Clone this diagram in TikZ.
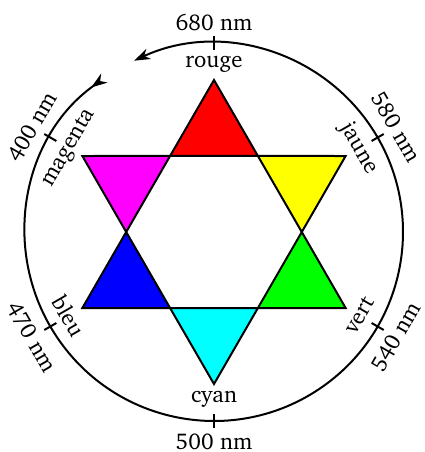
\documentclass[tikz,border=0pt]{standalone}
\usepackage[T1]{fontenc}
\usepackage{charter}
\usetikzlibrary{arrows.meta}

\definecolor{rouge}{rgb}{1,0,0}
\definecolor{jaune}{rgb}{1,1,0}
\definecolor{vert}{rgb}{0,1,0}
\definecolor{cyan}{rgb}{0,1,1}
\definecolor{bleu}{rgb}{0,0,1}
\definecolor{magenta}{rgb}{1,0,1}

\begin{document}
\begin{tikzpicture}[x=0.5pt,y=0.5pt,
  tri/.style={draw=black,line width=1pt,line join=miter},
  marque/.style={line width=1pt},
  font=\fontsize{11.4}{13}\selectfont]
  \useasboundingbox (-214,-220) rectangle (211,232);
  \coordinate (O) at (0,0);
  % --- cercle des longueurs d'onde ---
  \draw[line width=1pt,{Stealth[length=8pt,width=5.5pt,inset=2.5pt,reversed]}-{Stealth[length=8pt,width=5.5pt,inset=2.5pt]}]
    (125.5:189) arc[start angle=125.5,end angle=475,radius=189];
  % --- graduations ---
  \coordinate (t90a) at (90:182);   \coordinate (t90b) at (90:196);
  \coordinate (t30a) at (30:182);   \coordinate (t30b) at (30:196);
  \coordinate (t-30a) at (-30:182); \coordinate (t-30b) at (-30:196);
  \coordinate (t-90a) at (-90:182); \coordinate (t-90b) at (-90:196);
  \coordinate (t210a) at (210:182); \coordinate (t210b) at (210:196);
  \coordinate (t150a) at (150:182); \coordinate (t150b) at (150:196);
  \draw[marque] (t90a) -- (t90b);
  \draw[marque] (t30a) -- (t30b);
  \draw[marque] (t-30a) -- (t-30b);
  \draw[marque] (t-90a) -- (t-90b);
  \draw[marque] (t210a) -- (t210b);
  \draw[marque] (t150a) -- (t150b);
  % --- etoile : hexagone interieur et pointes ---
  \coordinate (h0) at (0:87.8);
  \coordinate (h60) at (60:87.8);
  \coordinate (h120) at (120:87.8);
  \coordinate (h180) at (180:87.8);
  \coordinate (h240) at (240:87.8);
  \coordinate (h300) at (300:87.8);
  \coordinate (pR) at (90:152);
  \coordinate (pJ) at (30:152);
  \coordinate (pV) at (-30:152);
  \coordinate (pC) at (-90:152);
  \coordinate (pB) at (210:152);
  \coordinate (pM) at (150:152);
  \filldraw[tri,fill=rouge] (pR) -- (h60) -- (h120) -- cycle;
  \filldraw[tri,fill=jaune] (pJ) -- (h0) -- (h60) -- cycle;
  \filldraw[tri,fill=vert] (pV) -- (h300) -- (h0) -- cycle;
  \filldraw[tri,fill=cyan] (pC) -- (h240) -- (h300) -- cycle;
  \filldraw[tri,fill=bleu] (pB) -- (h180) -- (h240) -- cycle;
  \filldraw[tri,fill=magenta] (pM) -- (h120) -- (h180) -- cycle;
  % --- noms des couleurs ---
  \node (nrouge) at (90:168) {rouge};
  \node[rotate=-60] (njaune) at (30:167) {jaune};
  \node[rotate=60] (nvert) at (-30:168) {vert};
  \node (ncyan) at (-90:167) {cyan};
  \node[rotate=-60] (nbleu) at (210:168) {bleu};
  \node[rotate=60] (nmagenta) at (150:167) {magenta};
  % --- longueurs d'onde ---
  \node (l680) at (90:209) {680 nm};
  \node[rotate=-60] (l580) at (30:210) {580 nm};
  \node[rotate=60] (l540) at (-30:210) {540 nm};
  \node (l500) at (-90:210) {500 nm};
  \node[rotate=-60] (l470) at (210:211) {470 nm};
  \node[rotate=60] (l400) at (150:210) {400 nm};
\end{tikzpicture}
\end{document}
